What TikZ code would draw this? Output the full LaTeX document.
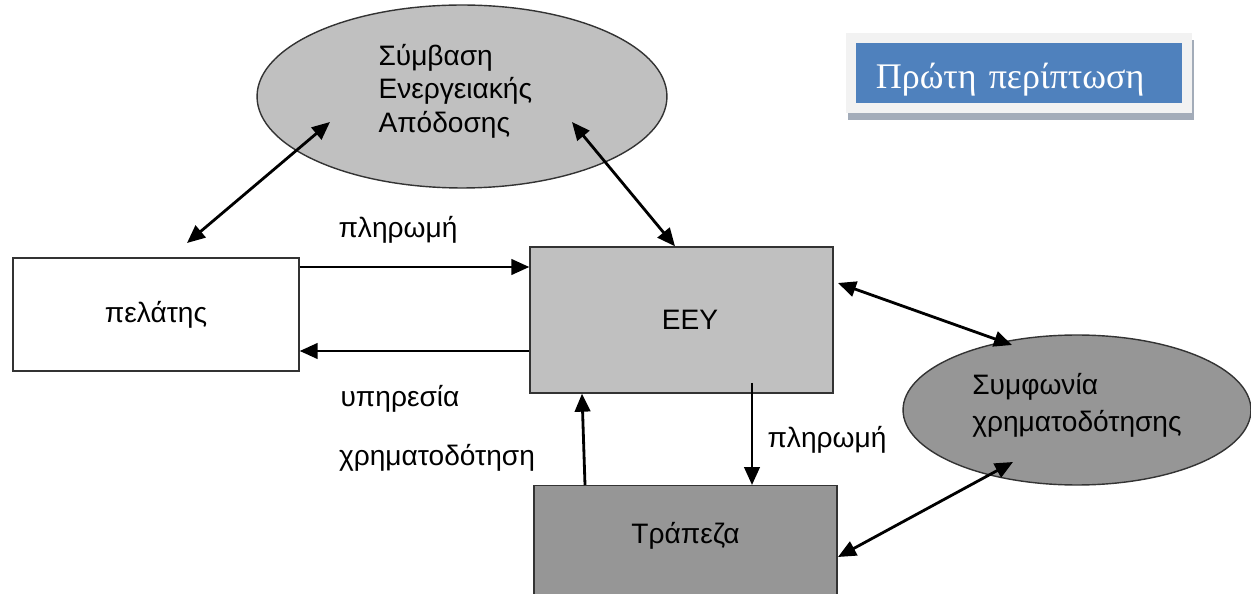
\documentclass[tikz,border=0pt]{standalone}
\usepackage{fontspec}
\setmainfont{Liberation Sans}
\newfontfamily\serifgr{Liberation Serif}
\usetikzlibrary{shapes.geometric,arrows.meta}

\definecolor{lightbox}{HTML}{C0C0C0}
\definecolor{darkbox}{HTML}{969696}
\definecolor{titleblue}{HTML}{4F81BD}
\definecolor{titleframe}{HTML}{F2F2F2}
\definecolor{titleshadow}{HTML}{A3ACB9}

\tikzset{
  block/.style={draw=black!80, line width=0.8pt, font=\fontsize{16}{19}\selectfont},
  oval/.style={ellipse, draw=black!80, line width=0.8pt, align=left, inner sep=0pt},
  flow/.style={line width=1.6pt, >={Triangle[length=0.36cm,width=0.31cm]}},
  tag/.style={font=\fontsize{16}{19}\selectfont},
  titlebox/.style={fill=titleblue, draw=titleframe, line width=0.19cm, text=white,
    font=\serifgr\fontsize{20.5}{23}\selectfont, text width=5.73cm, align=left,
    inner xsep=0.5cm, minimum height=1.41cm, text height=0.72cm, text depth=0.08cm},
}

\begin{document}
\begin{tikzpicture}[x=0.02cm, y=-0.02cm]
    \useasboundingbox (0,0) rectangle (1251,594);

    % Define the boxes for the client, the ESCO and the bank
    \node[block, fill=white, minimum width=5.72cm, minimum height=2.26cm] (client) at (156,314.5) {πελάτης};
    \node[block, fill=lightbox, minimum width=6.06cm, minimum height=2.92cm, text width=1.46cm, align=right] (eey) at (681.5,320) {ΕΕΥ};
    \node[block, fill=darkbox, minimum width=6.06cm, anchor=north, text height=0.96cm, text depth=1.94cm, inner ysep=0.2cm] (bank) at (685.5,485) {Τράπεζα};

    % Define the two agreements
    \node[oval, fill=lightbox, minimum width=8.2cm, minimum height=3.66cm, text width=3.34cm, text depth=1.67cm, font=\fontsize{16}{19}\selectfont] (contract) at (462,96.5) {Σύμβαση\\Ενεργειακής\\Απόδοσης};
    \node[oval, fill=darkbox, minimum width=6.96cm, minimum height=3cm, text depth=0.3cm, font=\fontsize{16}{21}\selectfont] (funding) at (1077,410) {Συμφωνία\\χρηματοδότησης};

    % Title of the case, with its shadow behind it
    \fill[titleshadow] (848,40) rectangle (1194,120);
    \node[titlebox] (title) at (1019,73) {Πρώτη περίπτωση};

    % Free ends of the connectors
    \coordinate (client-up) at (187,243);
    \coordinate (contract-sw) at (330,122);
    \coordinate (contract-se) at (572,122);
    \coordinate (eey-in) at (752,383);
    \coordinate (eey-out) at (838,283);
    \coordinate (bank-out) at (838,557);
    \coordinate (funding-nw) at (1012,345);
    \coordinate (funding-sw) at (1013,462);

    % Links to the agreements
    \draw[flow, <->] (client-up) -- (contract-sw);
    \draw[flow, <->] (contract-se) -- (eey.north -| 675,0);
    \draw[flow, <->] (eey-out) -- (funding-nw);
    \draw[flow, <->] (bank-out) -- (funding-sw);

    % Payments and services
    \draw[flow, ->] (client.east |- 0,267) -- (eey.west |- 0,267);
    \draw[flow, ->] (eey.west |- 0,351) -- (client.east |- 0,351);
    \draw[flow, ->] (bank.north -| 585,0) -- (eey.south -| 582,0);
    \draw[flow, ->] (eey-in) -- (bank.north -| 752,0);

    % Labels of the flows
    \node[tag] (pay-client) at (398,229.5) {πληρωμή};
    \node[tag] (service) at (400,398.5) {υπηρεσία};
    \node[tag] (finance) at (437,457.5) {χρηματοδότηση};
    \node[tag] (pay-bank) at (827,440) {πληρωμή};
\end{tikzpicture}
\end{document}
